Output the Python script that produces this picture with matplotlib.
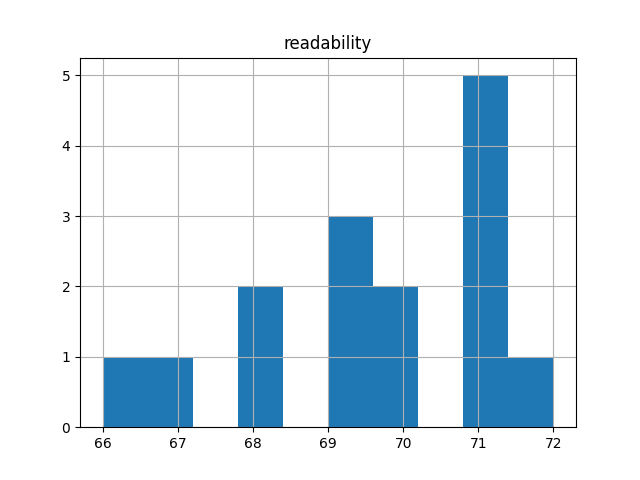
import matplotlib

matplotlib.use("Agg")
import matplotlib.pyplot as plt
import pandas as pd

# readability scores (10 bins between 66 and 72)
readability = [66.0, 66.8, 68.0, 68.2, 69.1, 69.2, 69.4, 69.8, 70.0,
               71.0, 71.0, 71.0, 71.1, 71.2, 72.0]

df = pd.DataFrame({"readability": readability})

fig, ax = plt.subplots(figsize=(6.4, 4.8), dpi=100)
df.hist(column="readability", bins=10, ax=ax)
plt.savefig("out.png")
plt.close()
